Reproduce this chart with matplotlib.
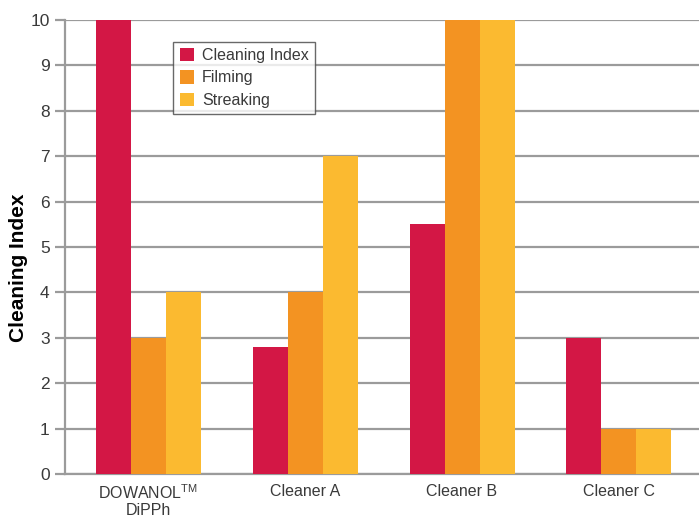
import numpy as np
import matplotlib.pyplot as plt

# datos
categorias = ["DOWANOL$^{\\mathregular{TM}}$\nDiPPh", "Cleaner A", "Cleaner B", "Cleaner C"]
series = ["Cleaning Index", "Filming", "Streaking"]
cleaning_index = [10, 2.8, 5.5, 3]
filming = [3, 4, 10, 1]
streaking = [4, 7, 10, 1]
colores = ["#D31745", "#F39322", "#FBBA30"]

plt.rcParams["font.family"] = ["Liberation Sans", "DejaVu Sans"]
plt.rcParams["mathtext.fontset"] = "custom"
plt.rcParams["mathtext.rm"] = "Liberation Sans"

fig = plt.figure(figsize=(6.99, 5.19), dpi=100)
ax = fig.add_axes([0.093, 0.0867, 0.907, 0.8748])

x = np.arange(len(categorias))
ancho = 0.223
for i, (vals, nombre) in enumerate(zip([cleaning_index, filming, streaking], series)):
    ax.bar(x + (i - 1) * ancho, vals, ancho, color=colores[i], label=nombre, zorder=3)

ax.set_xlim(-0.53, 3.51)
ax.set_ylim(0, 10)
ax.set_yticks(range(0, 11))
ax.set_xticks(x)
ax.set_xticklabels(categorias, linespacing=1.05)

ax.grid(axis="y", color="#9b9b9b", linewidth=1.6, zorder=0)
for s in ["top", "right"]:
    ax.spines[s].set_visible(False)
ax.spines["left"].set_color("#9b9b9b")
ax.spines["left"].set_linewidth(1.6)
ax.spines["bottom"].set_color("#9b9b9b")
ax.spines["bottom"].set_linewidth(1.6)

ax.tick_params(axis="y", length=7, width=1.6, color="#9b9b9b",
               labelsize=12.5, labelcolor="#3a3a3a", pad=4)
ax.tick_params(axis="x", length=0, labelsize=11.5, labelcolor="#3a3a3a", pad=7)

ax.set_ylabel("Cleaning Index", fontsize=15, fontweight="bold")
ax.yaxis.set_label_coords(-0.058, 0.454)

leg = ax.legend(loc="upper left", bbox_to_anchor=(0.158, 0.97),
                fontsize=11.5, frameon=True, fancybox=False,
                handlelength=0.9, handleheight=0.9, handletextpad=0.5,
                labelspacing=0.45, borderpad=0.4)
leg.get_frame().set_edgecolor("#444444")
leg.get_frame().set_linewidth(1.0)
for t in leg.get_texts():
    t.set_color("#3a3a3a")

plt.savefig("out.png", dpi=100)
